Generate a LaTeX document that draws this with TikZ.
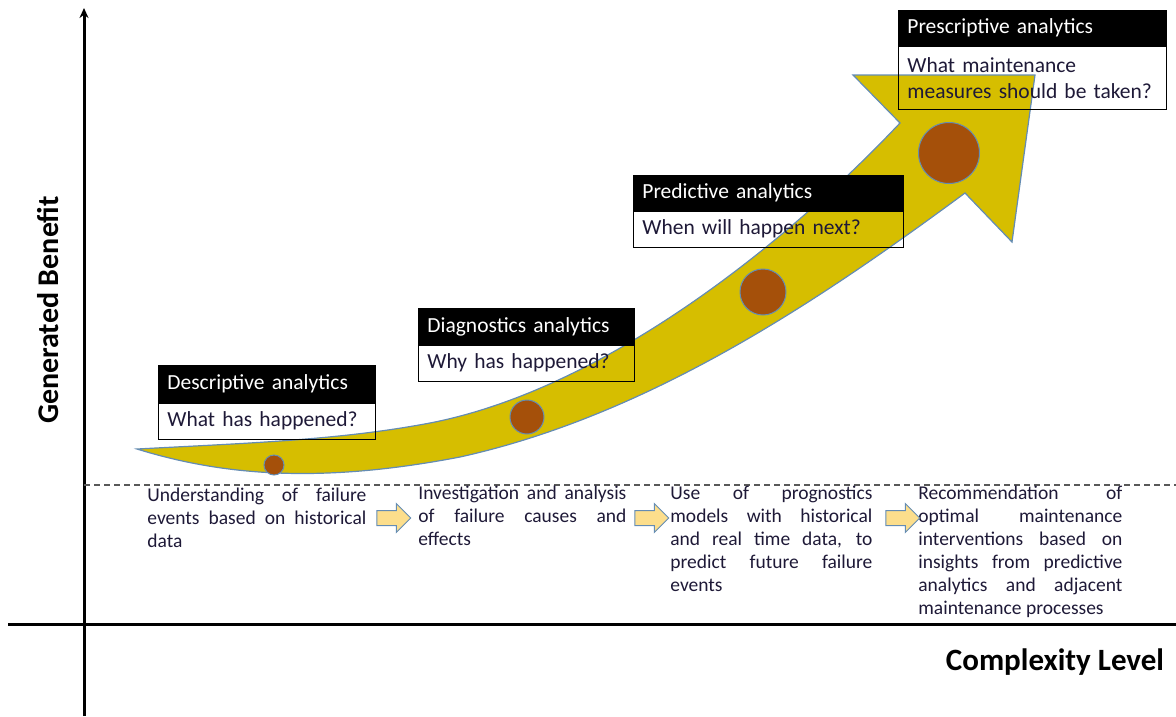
\documentclass[tikz,border=0pt]{standalone}
\usepackage{fontspec}
\setmainfont{Carlito}
\usetikzlibrary{positioning,arrows.meta,shapes.arrows}

\definecolor{arrowgold}{RGB}{214,190,0}
\definecolor{rimblue}{RGB}{100,140,180}
\definecolor{rust}{RGB}{165,80,10}
\definecolor{inkblue}{RGB}{30,25,55}
\definecolor{paleyellow}{RGB}{252,222,140}

\begin{document}
\begin{tikzpicture}[x=1pt, y=-1pt, thick,
    head/.style = {draw, fill=black, text=white, anchor=north west, inner xsep=9pt, inner ysep=0pt,
                   align=left, font=\fontsize{21.5}{25}\selectfont},
    ask/.style = {draw, text=inkblue, inner xsep=9pt, inner ysep=0pt, align=left,
                  font=\fontsize{21.5}{26}\selectfont},
    dot/.style = {circle, fill=rust, draw=rimblue, line width=1pt, inner sep=0pt},
    note/.style = {anchor=north west, inner sep=0pt, align=justify, text=inkblue,
                   font=\fontsize{19.5}{23}\selectfont},
    nextarr/.style = {single arrow, draw=rimblue, fill=paleyellow, line width=1pt, inner sep=7pt,
                      single arrow head extend=7pt, minimum height=34pt}]
  \useasboundingbox (0,0) rectangle (1176,716);

  % axes
  \coordinate (ybot) at (84,716);
  \coordinate (ytop) at (84,8);
  \coordinate (xl) at (8,624);
  \coordinate (xr) at (1176,624);
  \draw[line width=3pt, -{Stealth[length=10pt,width=9pt]}] (ybot) -- (ytop);
  \draw[line width=3pt] (xl) -- (xr);
  \node[rotate=90, font=\fontsize{30}{34}\selectfont\bfseries] (ylab) at (48,310) {Generated Benefit};
  \node[font=\fontsize{31}{35}\selectfont\bfseries] (xlab) at (1055,662) {Complexity Level};

  % level line
  \coordinate (dl) at (84,485);
  \coordinate (dr) at (1176,485);
  \draw[gray!70!black, line width=1.2pt, dash pattern=on 6pt off 4pt] (dl) -- (dr);

  % big curved arrow
  \filldraw[fill=arrowgold, draw=rimblue, line width=1.2pt]
    (137,449) .. controls (250,443) and (340,440) .. (430,423)
              .. controls (600,390) and (780,250) .. (900,123)
    -- (853,75) -- (1035,75) -- (1012,242) -- (965,193)
              .. controls (820,300) and (650,415) .. (460,457)
              .. controls (330,482) and (230,478) .. (137,449)
    -- cycle;

  \node[dot, minimum size=20pt] (c1) at (274,465) {};
  \node[dot, minimum size=34pt] (c2) at (527,417) {};
  \node[dot, minimum size=46pt] (c3) at (763,292) {};
  \node[dot, minimum size=61pt] (c4) at (949,153) {};

  % boxes
  \node[head, text width=199pt, minimum height=37pt] (h1) at (158,365) {Descriptive analytics};
  \node[ask, text width=199pt, minimum height=36pt, below=0pt of h1] (q1) {What has happened?};
  \node[head, text width=198pt, minimum height=36pt] (h2) at (418,308) {Diagnostics analytics};
  \node[ask, text width=198pt, minimum height=36pt, below=0pt of h2] (q2) {Why has happened?};
  \node[head, text width=252pt, minimum height=35pt] (h3) at (633,175) {Predictive analytics};
  \node[ask, text width=252pt, minimum height=36pt, below=0pt of h3] (q3) {When will happen next?};
  \node[head, text width=250pt, minimum height=35pt] (h4) at (898,10) {Prescriptive analytics};
  \node[ask, text width=250pt, minimum height=63pt, below=0pt of h4] (q4) {What maintenance\\measures should be taken?};

  % steps under the line
  \node[note, text width=219pt] (t1) at (147,488)
    {Understanding of failure\linebreak events based on historical\linebreak data};
  \node[note, text width=208pt] (t2) at (418,486)
    {Investigation and analysis\linebreak of failure causes and\linebreak effects};
  \node[note, text width=202pt] (t3) at (670,486)
    {Use of prognostics\linebreak models with historical\linebreak and real time data, to\linebreak predict future failure\linebreak events};
  \node[note, text width=204pt] (t4) at (918,486)
    {Recommendation of\linebreak optimal maintenance\linebreak interventions based on\linebreak insights from predictive\linebreak analytics and adjacent\linebreak maintenance processes};

  \node[nextarr] (a1) at (390,518) {};
  \node[nextarr] (a2) at (648,518) {};
  \node[nextarr] (a3) at (899,518) {};
\end{tikzpicture}
\end{document}
